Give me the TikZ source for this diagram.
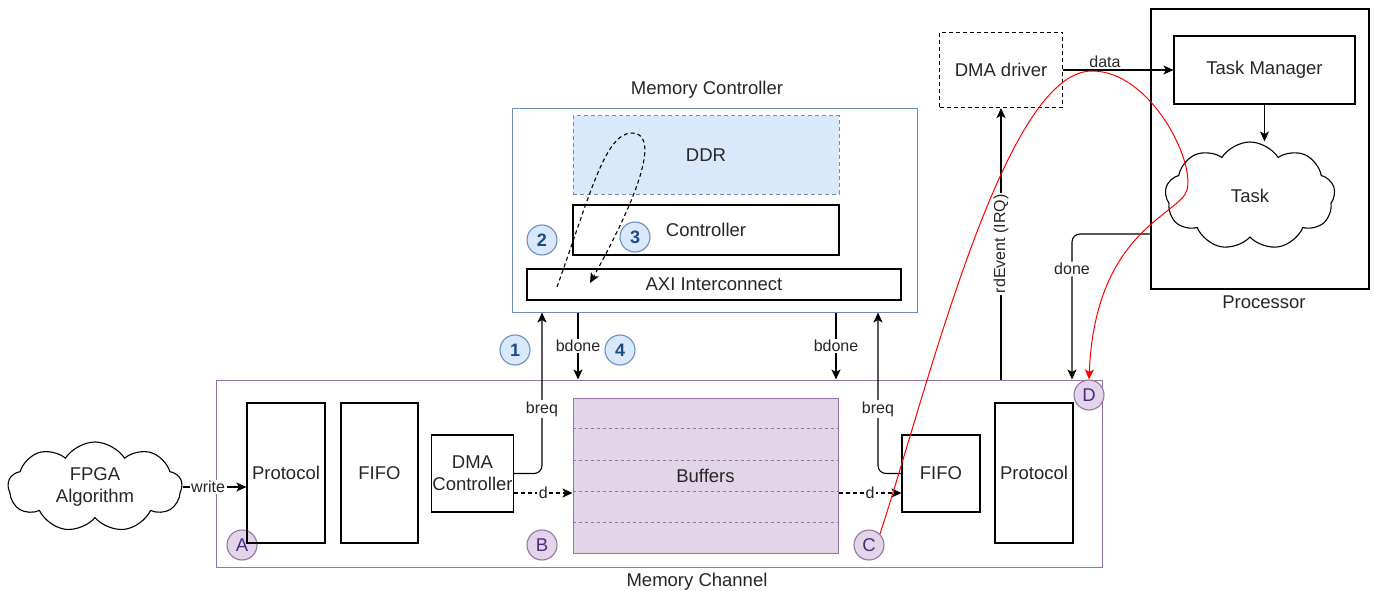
\documentclass[tikz,border=0pt]{standalone}
\usepackage{fontspec}
\setmainfont{Liberation Sans}
\usepackage{tikz}
\usetikzlibrary{calc}
\usetikzlibrary{arrows.meta, shapes.symbols}

\definecolor{mcblue}{HTML}{6C8EBF}
\definecolor{mcbluefill}{HTML}{DAE8FC}
\definecolor{chpurple}{HTML}{9673A6}
\definecolor{chpurplefill}{HTML}{E1D5E7}
\definecolor{numblue}{HTML}{1E4A85}
\definecolor{letpurple}{HTML}{4C2A85}

\begin{document}
\begin{tikzpicture}[
		x=1pt, y=-1pt,
		line width=1.1pt,
		every node/.style={
				font=\fontsize{18.5}{22}\selectfont,
				text=black!85
			},
		block/.style={draw, inner sep=1pt, align=center},
		dashbox/.style={dash pattern=on 4pt off 3pt},
		arr/.style={-{Stealth[length=10pt, width=9pt, inset=2.5pt]}},
		lbl/.style={fill=white, inner sep=1.5pt, font=\fontsize{16}{18}\selectfont},
		puffy/.style={cloud, draw, cloud puffs=9, cloud puff arc=115, cloud ignores aspect, align=center},
		numc/.style={circle, draw=mcblue, fill=mcbluefill, minimum size=30pt, inner sep=0pt,
				text=numblue, font=\fontsize{18}{22}\selectfont\bfseries},
		letc/.style={circle, draw=chpurple, fill=chpurplefill, minimum size=30pt, inner sep=0pt,
				text=letpurple}
	]
	\useasboundingbox (0,0) rectangle (1374,591);

	% memory controller
	\node[draw=mcblue, line width=1pt, minimum width=405pt, minimum height=203pt] (memctrl) at (714.5,210.5) {};
	\node (memctrlname) at (707,90) {Memory Controller};
	\node[block, draw=mcblue, fill=mcbluefill, dashbox, line width=1pt,
		minimum width=266pt, minimum height=78pt] (ddr) at (706,155) {DDR};
	\node[block, minimum width=266pt, minimum height=50pt] (ctrl) at (706,230) {Controller};
	\node[block, minimum width=374pt, minimum height=31pt] (axi) at (714,284.5) {AXI Interconnect};
	\node[numc] (n2) at (542,240) {2};
	\node[numc] (n3) at (635,237) {3};

	\coordinate (loopstart) at (557,287);
	\coordinate (looptop) at (632,133);
	\coordinate (loopend) at (590,283);
	\draw[arr, dashbox] (loopstart) .. controls (590,195) and (605,133) .. (looptop)
	.. controls (655,133) and (650,175) .. (loopend);

	% memory channel
	\node[draw=chpurple, line width=1pt, minimum width=886pt, minimum height=187pt] (memch) at (659,473.5) {};
	\node (memchname) at (697,582) {Memory Channel};
	\node[numc] (n1) at (515,350) {1};
	\node[numc] (n4) at (620,350) {4};
	\node[letc] (cA) at (242,545) {A};
	\node[letc] (cB) at (542,545) {B};
	\node[letc] (cC) at (869,545) {C};
	\node[letc] (cD) at (1089,395) {D};

	\node[block, minimum width=78pt, minimum height=140pt] (protoL) at (286,473) {Protocol};
	\node[block, minimum width=77pt, minimum height=140pt] (fifoL) at (379.5,473) {FIFO};
	\node[block, minimum width=79pt, minimum height=77pt] (dmac) at (472.5,473.5) {DMA\\Controller};
	\node[draw=chpurple, fill=chpurplefill, line width=1pt,
		minimum width=265pt, minimum height=155pt] (buf) at (705.5,475.5) {Buffers};
	\foreach \k in {1,...,4}
	\draw[chpurple, line width=0.7pt, dash pattern=on 3pt off 3pt]
	($(buf.north west)!\k/5!(buf.south west)$) -- ($(buf.north east)!\k/5!(buf.south east)$);
	\node[block, minimum width=78pt, minimum height=77pt] (fifoR) at (941,473.5) {FIFO};
	\node[block, minimum width=78pt, minimum height=140pt] (protoR) at (1034,473) {Protocol};

	\node[puffy, minimum width=174pt, minimum height=90pt] (fpga) at (95,487) {FPGA\\Algorithm};

	% host side
	\node[draw, minimum width=218pt, minimum height=280pt] (proc) at (1260,149) {};
	\node (procname) at (1264,302) {Processor};
	\node[block, minimum width=181pt, minimum height=68pt] (taskmgr) at (1264.5,70) {Task Manager};
	\node[puffy, minimum width=170pt, minimum height=108pt] (task) at (1250,196) {Task};
	\node[block, dashbox, minimum width=123pt, minimum height=75pt] (drv) at (1001,70) {DMA driver};

	% signals
	\coordinate (brl) at (542,0);
	\coordinate (brr) at (878,0);
	\coordinate (bdl) at (578,0);
	\coordinate (bdr) at (836,0);
	\coordinate (dlane) at (0,493);
	\coordinate (donelane) at (0,234);
	\coordinate (donex) at (1072,0);

	\draw[arr] (fpga.east) -- (fpga.east -| protoL.west) node[pos=0.4, lbl] {write};
	\draw[arr, rounded corners=8pt] (dmac.east) -| (memctrl.south -| brl) node[pos=0.7, lbl] {breq};
	\draw[arr, rounded corners=8pt] (fifoR.west) -| (memctrl.south -| brr) node[pos=0.7, lbl] {breq};
	\draw[arr] (memctrl.south -| bdl) -- (memch.north -| bdl) node[midway, lbl] {bdone};
	\draw[arr] (memctrl.south -| bdr) -- (memch.north -| bdr) node[midway, lbl] {bdone};
	\draw[arr, dashbox] (dmac.east |- dlane) -- (buf.west |- dlane) node[midway, lbl] {d};
	\draw[arr, dashbox] (buf.east |- dlane) -- (fifoR.west |- dlane) node[midway, lbl] {d};
	\draw[arr] (memch.north -| drv.south) -- (drv.south) node[midway, lbl, rotate=90] {rdEvent (IRQ)};
	\draw[arr] (drv.east) -- (taskmgr.west) node[pos=0.38, above, inner sep=2pt,
		font=\fontsize{16}{18}\selectfont] {data};
	\draw[arr] (taskmgr.south) -- (taskmgr.south |- task.north);
	\draw[arr, rounded corners=8pt] (proc.west |- donelane) -| (memch.north -| donex) node[pos=0.62, lbl] {done};

	% red path C -> D
	\draw[arr, red, line width=1pt] (cC.north east) .. controls (930,380) and (1005,71) .. (1092,71)
	.. controls (1150,71) and (1195,160) .. (1187,190)
	.. controls (1180,215) and (1095,230) .. (cD.north);
\end{tikzpicture}
\end{document}
